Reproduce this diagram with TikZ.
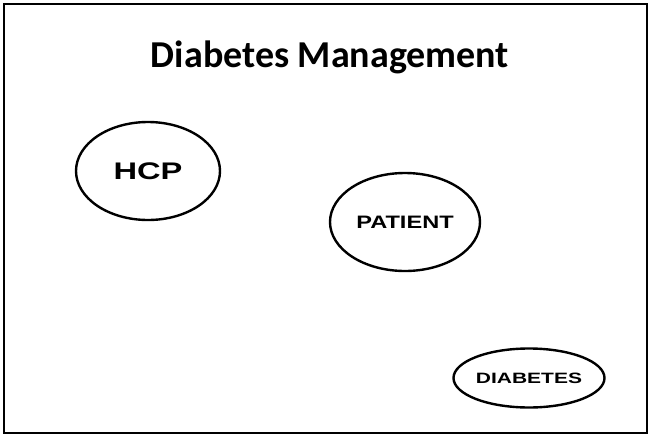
\documentclass[tikz,border=0pt]{standalone}
\usepackage{graphicx}
\usepackage{fontspec}
\setmainfont{Liberation Sans}
\newfontfamily\titlefont{Carlito}
\usetikzlibrary{shapes.geometric}
% wide bold capitals for the bubble labels
\newcommand{\widecaps}[2]{\scalebox{#1}[1]{#2}}
\begin{document}
\begin{tikzpicture}[x=1pt,y=-1pt,
  bubble/.style={draw=black, line width=2.4pt, ellipse, inner sep=0pt},
  frame/.style={draw=black, line width=1.8pt}]
  \useasboundingbox (0,0) rectangle (651,437);
  \fill[white] (0,0) rectangle (651,437);
  \draw[frame] (4,4) rectangle (647,433);
  \node[anchor=base, inner sep=0pt] (title) at (330,67)
    {\titlefont\bfseries\fontsize{38}{44}\selectfont Diabetes Management};
  \node[bubble, minimum width=144pt, minimum height=98pt,
        font=\bfseries\fontsize{24}{28}\selectfont] (hcp) at (148,171)
    {\widecaps{1.36}{HCP}};
  \node[bubble, minimum width=150pt, minimum height=98pt,
        font=\bfseries\fontsize{18}{21}\selectfont] (patient) at (405,222)
    {\widecaps{1.31}{PATIENT}};
  \node[bubble, minimum width=151pt, minimum height=59pt,
        font=\bfseries\fontsize{15}{18}\selectfont] (diabetes) at (529,378)
    {\widecaps{1.4}{DIABETES}};
\end{tikzpicture}
\end{document}
